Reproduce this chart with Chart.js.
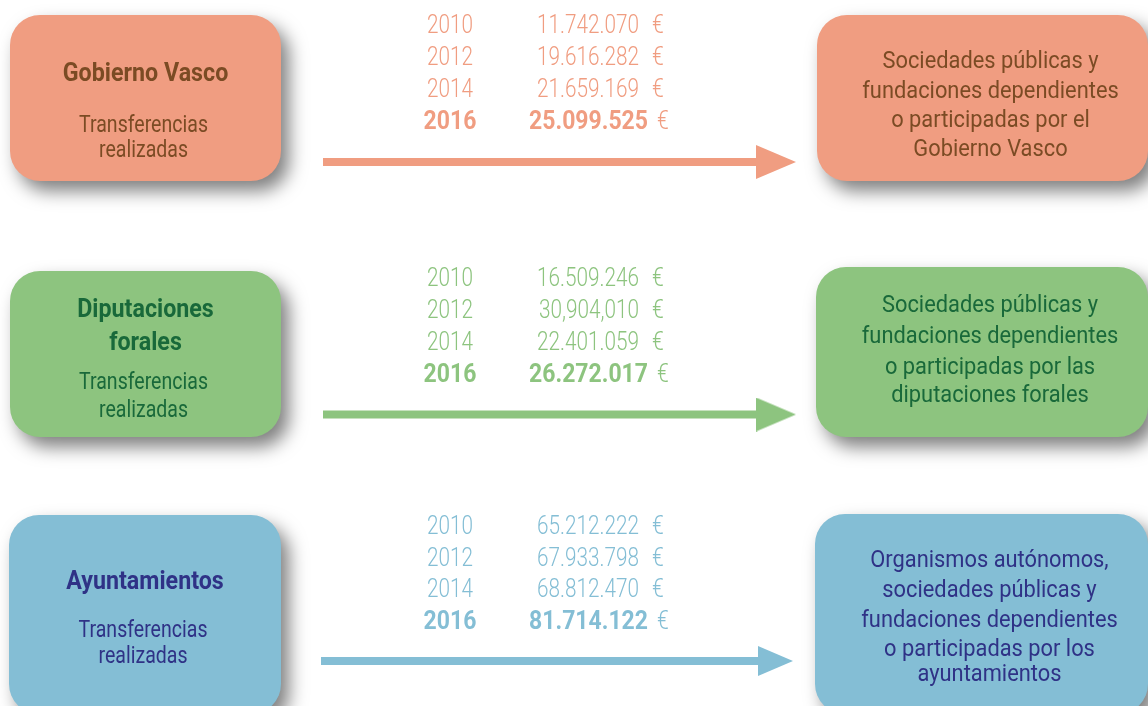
<!DOCTYPE html>
<html>
<head>
<meta charset="utf-8">
<style>
  html, body { margin: 0; padding: 0; background: #ffffff; }
  #diagrama { display: block; }
</style>
<script src="https://cdn.jsdelivr.net/npm/chart.js@4/dist/chart.umd.min.js"></script>
</head>
<body>
<canvas id="diagrama" width="1148" height="706"></canvas>
<script>
// datos
var origenes = [['Gobierno Vasco'], ['Diputaciones', 'forales'], ['Ayuntamientos']];
var subtitulo = ['Transferencias', 'realizadas'];
var anios = ['2010', '2012', '2014', '2016'];
var importesGV = ['11.742.070', '19.616.282', '21.659.169', '25.099.525'];
var importesDF = ['16.509.246', '30,904,010', '22.401.059', '26.272.017'];
var importesAY = ['65.212.222', '67.933.798', '68.812.470', '81.714.122'];
var destinos = [
    ['Sociedades públicas y', 'fundaciones dependientes', 'o participadas por el', 'Gobierno Vasco'],
    ['Sociedades públicas y', 'fundaciones dependientes', 'o participadas por las', 'diputaciones forales'],
    ['Organismos autónomos,', 'sociedades públicas y', 'fundaciones dependientes', 'o participadas por los', 'ayuntamientos']
];
var importes = [importesGV, importesDF, importesAY];

// colores y posiciones de cada fila
var colores = ['#f09d81', '#8dc47f', '#84bed5'];
var textos = ['#7b4b24', '#19693a', '#2f3286'];
var filas = [
    { izq: [10, 281, 15, 181], der: [817, 1148, 15, 181], titulo: [81], sub: [132, 157],
      dest: [68, 98, 127, 156], tabla: [24, 56, 88, 120], flechaY: 162, x0: 323, punta: 796, cabeza: [40, 34] },
    { izq: [10, 281, 271, 437], der: [816, 1148, 267, 437], titulo: [317, 350], sub: [389, 417],
      dest: [312, 343, 374, 402], tabla: [277, 309, 341, 373], flechaY: 414.5, x0: 323, punta: 796, cabeza: [40, 34] },
    { izq: [9, 281, 515, 714], der: [815, 1148, 514, 714], titulo: [589], sub: [637, 663],
      dest: [567, 597, 627, 656, 681], tabla: [525, 557, 588, 620], flechaY: 661, x0: 321, punta: 793, cabeza: [35, 30] }
];

var FUENTE = 'Roboto, "Liberation Sans", sans-serif';

function cabezaFlecha(color, w, h) {
    var c = document.createElement('canvas');
    c.width = w; c.height = h;
    var g = c.getContext('2d');
    g.fillStyle = color;
    g.beginPath();
    g.moveTo(0, 0);
    g.lineTo(w, h / 2);
    g.lineTo(0, h);
    g.closePath();
    g.fill();
    return c;
}

var datasets = filas.map(function (f, i) {
    return {
        type: 'line',
        data: [{ x: f.x0, y: f.flechaY }, { x: f.punta - f.cabeza[0] / 2, y: f.flechaY }],
        borderColor: colores[i],
        borderWidth: 8,
        pointRadius: [0, 2],
        pointStyle: ['circle', cabezaFlecha(colores[i], f.cabeza[0], f.cabeza[1])],
        fill: false,
        clip: false
    };
});

function texto(ctx, t, x, y, font, color, align, sx) {
    ctx.save();
    ctx.font = font;
    ctx.fillStyle = color;
    ctx.textAlign = align;
    ctx.textBaseline = 'alphabetic';
    ctx.translate(x, y);
    ctx.scale(sx, 1);
    ctx.fillText(t, 0, 0);
    ctx.restore();
}

function caja(ctx, sx, sy, r, color) {
    var x0 = sx(r[0]), x1 = sx(r[1]), y0 = sy(r[2]), y1 = sy(r[3]);
    ctx.save();
    ctx.shadowColor = 'rgba(0,0,0,0.5)';
    ctx.shadowBlur = 18;
    ctx.shadowOffsetX = 8;
    ctx.shadowOffsetY = 10;
    ctx.fillStyle = color;
    ctx.beginPath();
    ctx.roundRect(x0, y0, x1 - x0, y1 - y0, 30);
    ctx.fill();
    ctx.restore();
}

var diagramaPlugin = {
    id: 'diagrama',
    beforeDatasetsDraw: function (chart) {
        var ctx = chart.ctx;
        var sx = function (v) { return chart.scales.x.getPixelForValue(v); };
        var sy = function (v) { return chart.scales.y.getPixelForValue(v); };
        filas.forEach(function (f, i) {
            caja(ctx, sx, sy, f.izq, colores[i]);
            caja(ctx, sx, sy, f.der, colores[i]);
        });
    },
    afterDatasetsDraw: function (chart) {
        var ctx = chart.ctx;
        var sx = function (v) { return chart.scales.x.getPixelForValue(v); };
        var sy = function (v) { return chart.scales.y.getPixelForValue(v); };
        filas.forEach(function (f, i) {
            var cIzq = (f.izq[0] + f.izq[1]) / 2;
            var cDer = (f.der[0] + f.der[1]) / 2 + 8;
            origenes[i].forEach(function (t, k) {
                texto(ctx, t, sx(cIzq), sy(f.titulo[k]), 'bold 25px ' + FUENTE, textos[i], 'center', 0.93);
            });
            subtitulo.forEach(function (t, k) {
                texto(ctx, t, sx(cIzq - 2), sy(f.sub[k]), '23px ' + FUENTE, textos[i], 'center', 0.85);
            });
            destinos[i].forEach(function (t, k) {
                texto(ctx, t, sx(cDer), sy(f.dest[k]), '24px ' + FUENTE, textos[i], 'center', 0.91);
            });
            anios.forEach(function (a, k) {
                var ultimo = k === anios.length - 1;
                var base = sy(f.tabla[k] + 9);
                if (ultimo) {
                    texto(ctx, a, sx(450), base, 'bold 25px ' + FUENTE, colores[i], 'center', 0.92);
                    texto(ctx, importes[i][k], sx(648), base, 'bold 25px ' + FUENTE, colores[i], 'right', 0.92);
                    texto(ctx, '€', sx(657), base, '300 25px ' + FUENTE, colores[i], 'left', 0.85);
                } else {
                    texto(ctx, a, sx(450), base, '300 25px ' + FUENTE, colores[i], 'center', 0.83);
                    texto(ctx, importes[i][k], sx(639), base, '300 25px ' + FUENTE, colores[i], 'right', 0.83);
                    texto(ctx, '€', sx(652), base, '300 25px ' + FUENTE, colores[i], 'left', 0.85);
                }
            });
        });
    }
};

var mychart = new Chart(document.getElementById('diagrama'),
    {
        type: 'line',
        data: { datasets: datasets },
        options:
            {
                responsive: false,
                animation: false,
                events: [],
                layout: { padding: 0, autoPadding: false },
                plugins: { legend: { display: false }, tooltip: { enabled: false } },
                scales:
                    {
                        x: { type: 'linear', min: 0, max: 1148, display: false },
                        y: { type: 'linear', min: 0, max: 706, reverse: true, display: false }
                    }
            },
        plugins: [diagramaPlugin]
    });
</script>
</body>
</html>
